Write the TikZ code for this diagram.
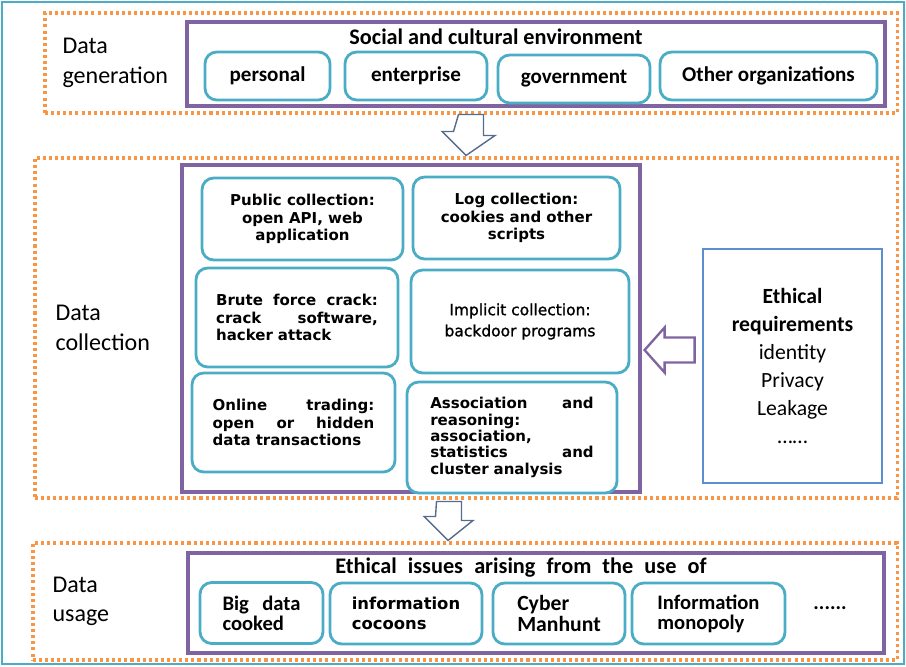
\documentclass[tikz,border=0pt]{standalone}
\usepackage{fontspec}
\setmainfont{Carlito}
\newfontfamily\verdfont{DejaVu Sans}
\newfontfamily\verdsemi[FakeBold=1.2]{DejaVu Sans}
\usetikzlibrary{arrows.meta, positioning, calc}
\definecolor{framecolor}{RGB}{75, 172, 198}
\definecolor{stagecolor}{RGB}{247, 150, 70}
\definecolor{groupcolor}{RGB}{128, 100, 162}
\definecolor{itemcolor}{RGB}{75, 172, 198}
\definecolor{reqcolor}{RGB}{91, 143, 205}
\definecolor{flowcolor}{RGB}{85, 108, 140}
\newcommand{\widespace}{\spaceskip=0.5em\relax}
\newcommand{\spreadline}[2]{\makebox[#1][s]{\spaceskip=0.3em plus 1fil\relax #2}}

\begin{document}
\begin{tikzpicture}[
    x=0.03cm, y=-0.03cm,
    % Frame styles
    stage/.style={
        draw=stagecolor,
        line width=2.6pt,
        dash pattern=on 2.6pt off 2.6pt,
        inner sep=0pt
    },
    group/.style={
        draw=groupcolor,
        line width=2.7pt,
        inner sep=0pt
    },
    item/.style={
        draw=itemcolor,
        line width=2.4pt,
        rounded corners=10pt,
        fill=white,
        inner sep=0pt
    },
    reqbox/.style={
        draw=reqcolor,
        line width=1.4pt,
        inner sep=0pt
    },
    % Text styles
    stagelabel/.style={
        font=\fontsize{20.5}{25}\selectfont,
        align=left,
        anchor=west
    },
    grouptitle/.style={
        font=\bfseries\fontsize{19}{23}\selectfont
    },
    toptext/.style={
        font=\bfseries\fontsize{18}{21}\selectfont
    },
    midtext/.style={
        font=\verdfont\bfseries\fontsize{12.8}{15.2}\selectfont
    },
    lowtext/.style={
        font=\bfseries\fontsize{17.6}{17}\selectfont,
        align=left
    },
    % Block arrow styles
    flow/.style={
        draw=flowcolor,
        line width=1.2pt,
        fill=white
    },
    backflow/.style={
        draw=groupcolor,
        line width=2pt,
        fill=white
    }
]

\useasboundingbox (0,0) rectangle (906,666);
\draw[draw=framecolor, line width=2.5pt] (2,2) rectangle (904,664);

% ===== DATA GENERATION =====

\node[stage, minimum width=25.56cm, minimum height=3cm] (genframe) at (471,63) {};
\node[group, minimum width=20.94cm, minimum height=2.52cm] (genbox) at (536,64) {};
\node[stagelabel] (genlabel) at ($(genframe.west)+(15,0)$) {Data\\generation};
\node[grouptitle] (gentitle) at (496,37) {Social and cultural environment};

\node[item, toptext, minimum width=3.75cm, minimum height=1.44cm] (personal) at (267.5,76) {personal};
\node[item, toptext, minimum width=4.26cm, minimum height=1.44cm] (enterprise) at (416,76) {enterprise};
\node[item, toptext, minimum width=4.56cm, minimum height=1.44cm] (government) at (574,79) {government};
\node[item, toptext, minimum width=6.51cm, minimum height=1.44cm] (otherorg) at (768.5,76) {Other organizations};

% ===== DATA COLLECTION =====

\node[stage, minimum width=25.86cm, minimum height=10.2cm] (colframe) at (466,328) {};
\node[group, minimum width=13.74cm, minimum height=9.81cm] (colbox) at (411,328.5) {};
\node[stagelabel] (collabel) at ($(colframe.west)+(18,0)$) {Data\\collection};

\node[item, midtext, align=center, minimum width=6.03cm, minimum height=2.46cm] (public) at (302.5,219) {
    Public collection:\\open API, web\\application};
\node[item, midtext, align=center, minimum width=6.21cm, minimum height=2.46cm] (logcol) at (516.5,218) {
    Log collection:\\cookies and other\\scripts};
\node[item, midtext, align=left, text width=4.85cm, minimum width=6.06cm, minimum height=2.97cm] (brute) at (297,317.5) {
    \spreadline{4.85cm}{Brute force crack:}\\\spreadline{4.85cm}{crack software,}\\hacker attack};
\node[item, font=\verdsemi\fontsize{13.2}{18}\selectfont, align=center, minimum width=6.54cm, minimum height=3.09cm] (implicit) at (520,321.5) {
    Implicit collection:\\backdoor programs};
\node[item, midtext, align=left, text width=4.85cm, minimum width=6.09cm, minimum height=2.97cm] (trading) at (293.5,422.5) {
    \spreadline{4.85cm}{Online trading:}\\\spreadline{4.85cm}{open or hidden}\\data transactions};
\node[item, font=\verdfont\bfseries\fontsize{12.8}{14}\selectfont, align=left, text width=4.9cm, minimum width=6.3cm, minimum height=3.33cm] (assoc) at (512,437.5) {
    \spreadline{4.9cm}{Association and}\\reasoning:\\association,\\\spreadline{4.9cm}{statistics and}\\cluster analysis};

\node[reqbox, align=center, font=\fontsize{18.5}{24}\selectfont, minimum width=5.37cm, minimum height=7.02cm] (ethics) at (792.5,366) {
    \textbf{Ethical}\\\textbf{requirements}\\identity\\Privacy\\Leakage\\……};

% ===== DATA USAGE =====

\node[stage, minimum width=25.92cm, minimum height=3.51cm] (useframe) at (465,601.5) {};
\node[group, minimum width=20.88cm, minimum height=3cm] (usebox) at (536,603) {};
\node[stagelabel] (uselabel) at ($(useframe.west)+(17,0)$) {Data\\usage};
\node[grouptitle] (usetitle) at (521,568) {\widespace Ethical issues arising from the use of};

\node[item, lowtext, text width=2.34cm, minimum width=3.69cm, minimum height=1.83cm] (cooked) at (261.5,613) {
    \spreadline{2.34cm}{Big data}\\cooked};
\node[item, font=\verdfont\bfseries\fontsize{14}{17}\selectfont, align=left, minimum width=4.56cm, minimum height=1.83cm] (cocoons) at (406,613.5) {
    information\\cocoons};
\node[item, lowtext, font=\bfseries\fontsize{18.5}{18}\selectfont, minimum width=3.96cm, minimum height=1.83cm] (manhunt) at (559,613.5) {
    Cyber\\Manhunt};
\node[item, lowtext, minimum width=4.59cm, minimum height=1.83cm] (monopoly) at (708.5,613.5) {
    Information\\monopoly};
\node[font=\bfseries\fontsize{17.6}{20}\selectfont] (more) at (830,608) {......};

% ===== BLOCK ARROWS =====

\draw[flow] ($(genframe.south)+(-12.5,0)$) -- ++(25,0) -- ++(0,21) -- ++(11.5,0)
    -- ($(colframe.north)+(0,-1)$) -- ++(-24,-24) -- ++(11.5,0) -- cycle;
\draw[flow] ($(colframe.south)+(-29.5,2)$) -- ++(25,0) -- ++(0,19) -- ++(11.5,0)
    -- ($(useframe.north)+(-17,-1)$) -- ++(-24,-24) -- ++(11.5,0) -- cycle;
\draw[backflow] ($(colbox.east)+(3,21.5)$) -- ++(20,-22.5) -- ++(0,10) -- ++(30,0)
    -- ++(0,25) -- ++(-30,0) -- ++(0,10) -- cycle;

\end{tikzpicture}
\end{document}
